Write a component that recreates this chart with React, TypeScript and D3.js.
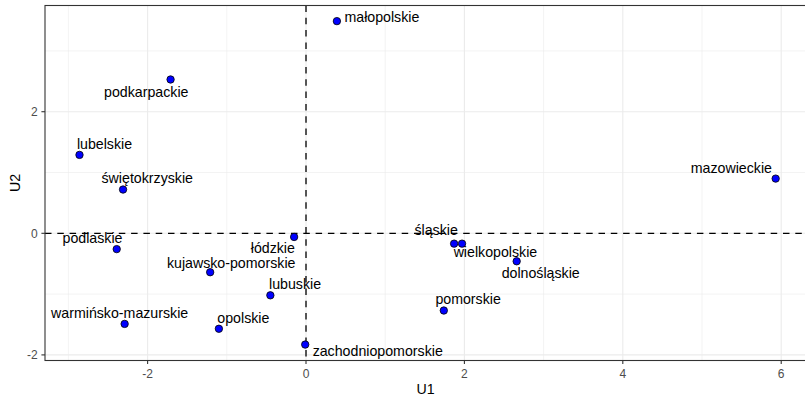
import * as d3 from "d3";

// region names and their coordinates on the two components
const regions = [
  "małopolskie", "podkarpackie", "lubelskie", "świętokrzyskie", "mazowieckie",
  "podlaskie", "łódzkie", "kujawsko-pomorskie", "lubuskie", "warmińsko-mazurskie",
  "opolskie", "zachodniopomorskie", "śląskie", "wielkopolskie", "dolnośląskie", "pomorskie",
];
const u1 = [0.39, -1.71, -2.86, -2.31, 5.93, -2.39, -0.15, -1.21, -0.45, -2.29, -1.10, -0.01, 1.87, 1.97, 2.66, 1.74];
const u2 = [3.49, 2.53, 1.29, 0.72, 0.90, -0.26, -0.06, -0.64, -1.02, -1.49, -1.57, -1.83, -0.17, -0.17, -0.46, -1.27];

const xTicks = [-2, 0, 2, 4, 6];
const yTicks = [-2, 0, 2];
const xMinor = [-3, -1, 1, 3, 5];
const yMinor = [-1, 1, 3];

// label placement (pixels from point: text centre, baseline), like ggrepel put them
const labelShift: [number, number][] = [
  [45, 0.5], [-24.3, 17.2], [25, -5.7], [24.2, -6.4], [-44.3, -5.6],
  [-24.2, -6.3], [-21.3, 15.6], [21, -4.6], [24.7, -6], [-5, -6],
  [24.5, -6], [72.5, 11], [-18, -8.7], [33.4, 13], [24, 16.4], [24.3, -6.4],
];

function App() {
  const width = 805;
  const height = 397;
  const margin = { top: 5.5, right: -1, bottom: 36.5, left: 45 };

  const x = d3.scaleLinear().domain([-3.2955, 6.313]).range([margin.left, width - margin.right]);
  const y = d3.scaleLinear().domain([-2.092, 3.747]).range([height - margin.bottom, margin.top]);

  const [x0, x1] = x.range();
  const [y0, y1] = y.range();
  const font = "'Liberation Sans', Arial, sans-serif";
  const fmt = (t: number) => (t < 0 ? "-" + Math.abs(t) : String(t));

  return (
    <svg width={width} height={height} style={{ position: "absolute", left: 0, top: 0 }} fontFamily={font}>
      <rect x={0} y={0} width={width} height={height} fill="#fff" />

      {/* grid */}
      {xMinor.map((t) => (
        <line key={"xm" + t} x1={x(t)} x2={x(t)} y1={y1} y2={y0} stroke="#EBEBEB" strokeWidth={0.6} />
      ))}
      {yMinor.map((t) => (
        <line key={"ym" + t} x1={x0} x2={x1} y1={y(t)} y2={y(t)} stroke="#EBEBEB" strokeWidth={0.6} />
      ))}
      {xTicks.map((t) => (
        <line key={"xg" + t} x1={x(t)} x2={x(t)} y1={y1} y2={y0} stroke="#EBEBEB" strokeWidth={1.1} />
      ))}
      {yTicks.map((t) => (
        <line key={"yg" + t} x1={x0} x2={x1} y1={y(t)} y2={y(t)} stroke="#EBEBEB" strokeWidth={1.1} />
      ))}

      {/* reference lines */}
      <line x1={x(0)} x2={x(0)} y1={y1} y2={y0} stroke="#000" strokeWidth={1.3} strokeDasharray="6.5,5.8" />
      <line x1={x0} x2={x1} y1={y(0)} y2={y(0)} stroke="#000" strokeWidth={1.3} strokeDasharray="6.5,5.8" />

      {/* points */}
      {regions.map((r, i) => (
        <circle key={r} cx={x(u1[i])} cy={y(u2[i])} r={3.7} fill="#0000FF" stroke="#000" strokeWidth={0.8} />
      ))}

      {/* labels */}
      {regions.map((r, i) => (
        <text
          key={"l" + r}
          x={x(u1[i]) + labelShift[i][0]}
          y={y(u2[i]) + labelShift[i][1]}
          textAnchor="middle"
          fontSize={14.2}
          fill="#000"
        >
          {r}
        </text>
      ))}

      {/* panel border */}
      <rect x={x0} y={y1} width={x1 - x0} height={y0 - y1} fill="none" stroke="#333333" strokeWidth={1.1} />

      {/* x axis */}
      {xTicks.map((t) => (
        <g key={"xt" + t}>
          <line x1={x(t)} x2={x(t)} y1={y0} y2={y0 + 3.6} stroke="#333333" strokeWidth={1.1} />
          <text x={x(t)} y={y0 + 17} textAnchor="middle" fontSize={12} fill="#4D4D4D">
            {fmt(t)}
          </text>
        </g>
      ))}
      {/* y axis */}
      {yTicks.map((t) => (
        <g key={"yt" + t}>
          <line x1={x0 - 3.6} x2={x0} y1={y(t)} y2={y(t)} stroke="#333333" strokeWidth={1.1} />
          <text x={x0 - 7.3} y={y(t) + 4.3} textAnchor="end" fontSize={12} fill="#4D4D4D">
            {fmt(t)}
          </text>
        </g>
      ))}

      <text x={(x0 + x1) / 2} y={394} textAnchor="middle" fontSize={14.2} fill="#000">
        U1
      </text>
      <text transform={`translate(19.5,${(y0 + y1) / 2}) rotate(-90)`} textAnchor="middle" fontSize={14.2} fill="#000">
        U2
      </text>
    </svg>
  );
}

export default App;
